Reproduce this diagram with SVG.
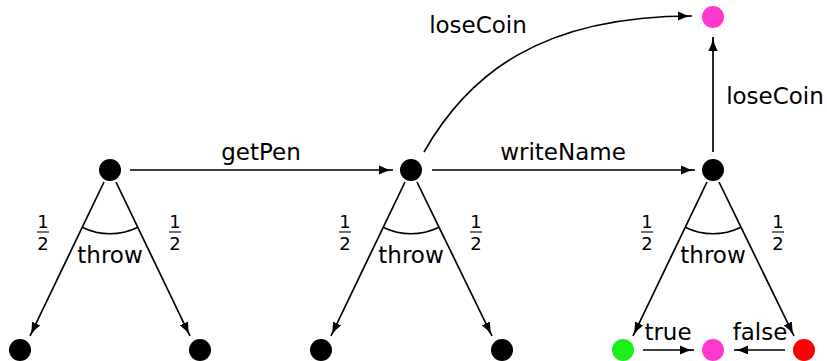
<svg xmlns="http://www.w3.org/2000/svg" width="827" height="361" viewBox="0 0 827 361">
  <defs>
    <marker id="arrow" viewBox="0 0 14 10" refX="14" refY="5" markerWidth="14" markerHeight="10" markerUnits="userSpaceOnUse" orient="auto">
      <path d="M0,0.4 Q7,4.2 14,5 Q7,5.8 0,9.6 Z" fill="#000"/>
    </marker>
  </defs>
  <style>
    text { font-family: "DejaVu Sans", "Liberation Sans", sans-serif; fill: #000; }
    .lbl { font-size: 23px; text-anchor: middle; }
    .frac { font-size: 18px; text-anchor: middle; }
    .edge { fill: none; stroke: #000; stroke-width: 1.7; marker-end: url(#arrow); }
    .arc { fill: none; stroke: #000; stroke-width: 1.7; }
    .bar { stroke: #000; stroke-width: 1.1; }
    .state { fill: #000; }
    .win { fill: #19f019; }
    .lose { fill: #ff38cc; }
    .bad { fill: #ff0000; }
  </style>

  <!-- transitions -->
  <g id="connectors">
    <line class="edge" x1="130" y1="170" x2="393" y2="170"/>
    <line class="edge" x1="432" y1="170" x2="695" y2="170"/>
    <path class="edge" d="M424,152 C468,75 540,16 692,16"/>
    <line class="edge" x1="713" y1="152" x2="713" y2="37"/>

    <line class="edge" x1="104" y1="182" x2="30" y2="336"/>
    <line class="edge" x1="116" y1="182" x2="190" y2="336"/>
    <line class="edge" x1="405" y1="182" x2="331" y2="336"/>
    <line class="edge" x1="417" y1="182" x2="492" y2="336"/>
    <line class="edge" x1="707" y1="182" x2="633" y2="336"/>
    <line class="edge" x1="719" y1="182" x2="794" y2="336"/>

    <line class="edge" x1="643" y1="350" x2="694" y2="350"/>
    <line class="edge" x1="785" y1="350" x2="734" y2="350"/>

    <!-- probability arcs marking the "throw" choice -->
    <path class="arc" d="M82.6,227.5 A63,63 0 0 0 137.4,227.5"/>
    <path class="arc" d="M383.6,227.5 A63,63 0 0 0 438.4,227.5"/>
    <path class="arc" d="M685.6,227.5 A63,63 0 0 0 740.4,227.5"/>
  </g>

  <!-- edge labels -->
  <g id="labels">
    <text class="lbl" x="261" y="160">getPen</text>
    <text class="lbl" x="563" y="160">writeName</text>
    <text class="lbl" x="478" y="33">loseCoin</text>
    <text class="lbl" x="775" y="104">loseCoin</text>
    <text class="lbl" x="110" y="263">throw</text>
    <text class="lbl" x="411" y="263">throw</text>
    <text class="lbl" x="713" y="263">throw</text>
    <text class="lbl" x="668" y="340">true</text>
    <text class="lbl" x="760" y="340">false</text>

    <g id="fractions">
      <text class="frac" x="43" y="228">1</text><line class="bar" x1="37" y1="232" x2="49" y2="232"/><text class="frac" x="43" y="250">2</text>
      <text class="frac" x="175" y="228">1</text><line class="bar" x1="169" y1="232" x2="181" y2="232"/><text class="frac" x="175" y="250">2</text>
      <text class="frac" x="345" y="228">1</text><line class="bar" x1="339" y1="232" x2="351" y2="232"/><text class="frac" x="345" y="250">2</text>
      <text class="frac" x="476" y="228">1</text><line class="bar" x1="470" y1="232" x2="482" y2="232"/><text class="frac" x="476" y="250">2</text>
      <text class="frac" x="647" y="228">1</text><line class="bar" x1="641" y1="232" x2="653" y2="232"/><text class="frac" x="647" y="250">2</text>
      <text class="frac" x="778" y="228">1</text><line class="bar" x1="772" y1="232" x2="784" y2="232"/><text class="frac" x="778" y="250">2</text>
    </g>
  </g>

  <!-- states -->
  <g id="s0"><circle class="state" cx="110" cy="170" r="11"/></g>
  <g id="s1"><circle class="state" cx="411" cy="170" r="11"/></g>
  <g id="s2"><circle class="state" cx="713" cy="170" r="11"/></g>
  <g id="lost-top"><circle class="lose" cx="713" cy="17" r="11"/></g>
  <g id="s0-a"><circle class="state" cx="20" cy="350" r="11"/></g>
  <g id="s0-b"><circle class="state" cx="200" cy="350" r="11"/></g>
  <g id="s1-a"><circle class="state" cx="321" cy="350" r="11"/></g>
  <g id="s1-b"><circle class="state" cx="502" cy="350" r="11"/></g>
  <g id="s2-true"><circle class="win" cx="623" cy="350" r="11"/></g>
  <g id="lost-bottom"><circle class="lose" cx="713" cy="350" r="11"/></g>
  <g id="s2-false"><circle class="bad" cx="804" cy="350" r="11"/></g>
</svg>
